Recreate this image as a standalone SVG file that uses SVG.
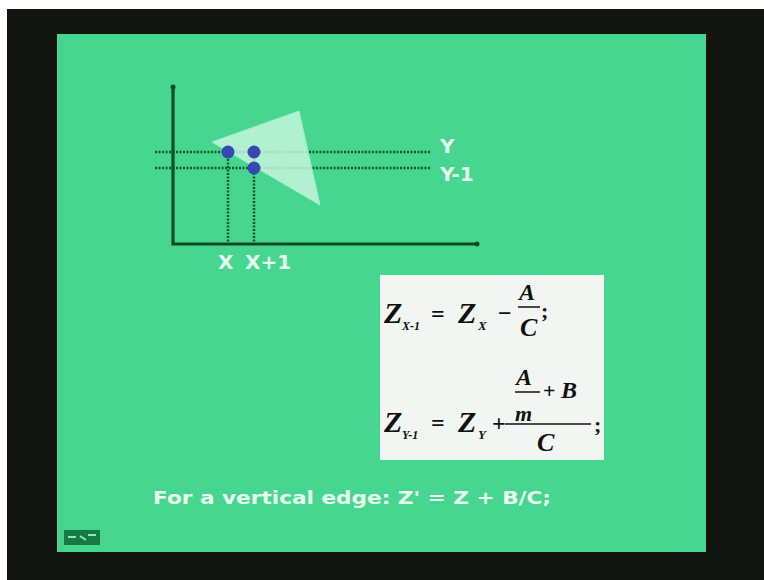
<svg xmlns="http://www.w3.org/2000/svg" width="764" height="580" viewBox="0 0 764 580">
<defs>
<style>
.axis{stroke:#0a4a22;stroke-width:3.2;fill:none}
.dot{stroke:#0b5a2a;stroke-width:2.5;stroke-dasharray:2 1.5;fill:none}
.lbl{font-family:"DejaVu Sans","Liberation Sans",sans-serif;font-weight:bold;fill:#e8fff0}
.m{font-family:"Liberation Serif","DejaVu Serif",serif;font-weight:bold;font-style:italic;fill:#111}
.op{font-family:"Liberation Serif","DejaVu Serif",serif;font-weight:bold;fill:#111}
.fr{stroke:#111;stroke-width:1.5}
</style>
</defs>
<rect x="0" y="0" width="764" height="580" fill="#ffffff"/>
<rect x="7" y="9" width="757" height="571" fill="#12140f"/>
<rect x="57" y="34" width="649" height="518" fill="#47d68f"/>
<g id="icon">
<rect x="64" y="530" width="36" height="15" fill="#167a42"/>
<path d="M68 537h8M80 536l6 4M88 535h8" stroke="#8fe8b8" stroke-width="2"/>
</g>
<g id="axes">
<path class="axis" d="M173 88V244H477"/>
<circle cx="173" cy="87" r="2.5" fill="#0a4a22"/>
<circle cx="477" cy="244" r="2.5" fill="#0a4a22"/>
</g>
<g id="connectors">
<line class="dot" x1="155" y1="152" x2="430" y2="152"/>
<line class="dot" x1="155" y1="168" x2="430" y2="168"/>
<line class="dot" x1="228" y1="152" x2="228" y2="243"/>
<line class="dot" x1="254" y1="152" x2="254" y2="243"/>
</g>
<g id="triangle">
<polygon points="212,142 299,111 320,205" fill="#c8f7e0" fill-opacity="0.82" stroke="#a5ebc8" stroke-width="1"/>
</g>
<g id="points">
<circle cx="228" cy="152" r="6.5" fill="#3848b0"/>
<circle cx="254" cy="152" r="6.5" fill="#3848b0"/>
<circle cx="254" cy="168" r="6.5" fill="#3848b0"/>
</g>
<g id="labels">
<text class="lbl" x="440" y="153" font-size="20">Y</text>
<text class="lbl" x="440" y="181" font-size="20">Y-1</text>
<text class="lbl" x="218" y="269" font-size="20">X</text>
<text class="lbl" x="245" y="269" font-size="20">X+1</text>
</g>
<g id="formulas">
<rect x="380" y="275" width="224" height="185" fill="#f2f6f2"/>
<text class="m" x="384" y="323" font-size="30">Z</text>
<text class="m" x="402" y="330" font-size="12">X-1</text>
<text class="op" x="431" y="322" font-size="24">=</text>
<text class="m" x="458" y="323" font-size="30">Z</text>
<text class="m" x="478" y="330" font-size="13">X</text>
<text class="op" x="498" y="321" font-size="24">−</text>
<text class="m" x="519" y="300" font-size="24">A</text>
<line class="fr" x1="518" y1="307" x2="540" y2="307"/>
<text class="m" x="520" y="336" font-size="26">C</text>
<text class="op" x="541" y="318" font-size="22">;</text>
<text class="m" x="384" y="432" font-size="30">Z</text>
<text class="m" x="402" y="439" font-size="12">Y-1</text>
<text class="op" x="431" y="431" font-size="24">=</text>
<text class="m" x="458" y="432" font-size="30">Z</text>
<text class="m" x="478" y="439" font-size="13">Y</text>
<text class="op" x="492" y="431" font-size="24">+</text>
<text class="m" x="516" y="385" font-size="24">A</text>
<line class="fr" x1="515" y1="392" x2="540" y2="392"/>
<text class="op" x="543" y="398" font-size="22">+</text>
<text class="m" x="561" y="398" font-size="24">B</text>
<text class="m" x="515" y="421" font-size="22">m</text>
<line class="fr" x1="505" y1="424" x2="591" y2="424"/>
<text class="m" x="537" y="451" font-size="26">C</text>
<text class="op" x="594" y="432" font-size="22">;</text>
</g>
<g id="note">
<text class="lbl" x="153" y="504" font-size="17" fill="#dcfae8" textLength="398" lengthAdjust="spacingAndGlyphs">For a vertical edge: Z' = Z + B/C;</text>
</g>
</svg>
